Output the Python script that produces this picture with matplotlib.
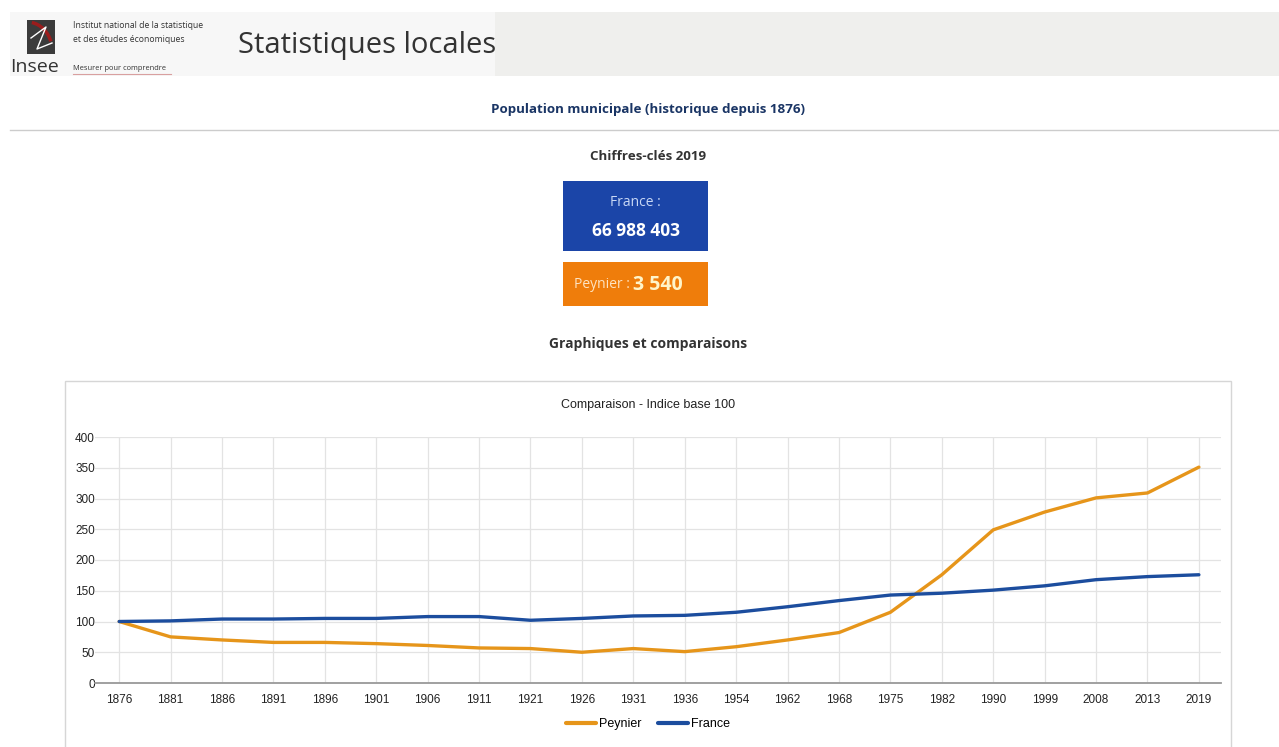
import numpy as np
import matplotlib
matplotlib.use("Agg")
import matplotlib.pyplot as plt
from matplotlib.patches import Rectangle, Arc

# ================== données ==================
annees = ["1876", "1881", "1886", "1891", "1896", "1901", "1906", "1911", "1921",
          "1926", "1931", "1936", "1954", "1962", "1968", "1975", "1982", "1990",
          "1999", "2008", "2013", "2019"]
peynier = [100, 75, 70, 66, 66, 64, 61, 57, 56, 50, 56, 51, 59, 70, 82, 115,
           176, 249, 278, 301, 309, 351]
france = [100, 101, 104, 104, 105, 105, 108, 108, 102, 105, 109, 110, 115, 124,
          134, 143, 146, 151, 158, 168, 173, 176]
y_ticks = [0, 50, 100, 150, 200, 250, 300, 350, 400]

pop_france = "66 988 403"
pop_peynier = "3 540"
# =============================================

W, H = 1279, 747
C_ORANGE = "#e6951a"
C_BLUE = "#1c4d9e"
HEAD_FONT = ["Open Sans", "DejaVu Sans"]
CHART_FONT = ["Liberation Sans", "DejaVu Sans"]

fig = plt.figure(figsize=(W / 100, H / 100), dpi=100)
fig.patch.set_facecolor("white")

# calque "page" en pixels (axe y inversé)
bg = fig.add_axes([0, 0, 1, 1])
bg.set_xlim(0, W)
bg.set_ylim(H, 0)
bg.axis("off")

# ===== bandeau =====
bg.add_patch(Rectangle((10, 12), 485, 64, facecolor="#f7f7f7", edgecolor="none"))
bg.add_patch(Rectangle((495, 12), W - 495, 64, facecolor="#efefed", edgecolor="none"))
logo = Rectangle((27, 20), 28, 34, facecolor="#3b3b3b", edgecolor="none")
bg.add_patch(logo)
arc = Arc((27, 50), 50, 56, theta1=280, theta2=340, color="#9b1c1c", lw=2.5)
bg.add_patch(arc)
arc.set_clip_path(logo)
bg.plot([31, 46, 37, 52], [38, 27, 49, 43], color="white", lw=1)
bg.text(35, 67, "Insee", fontsize=14, family=HEAD_FONT, color="#333333",
        ha="center", va="center")
bg.text(73, 25, "Institut national de la statistique", fontsize=6.2,
        family=HEAD_FONT, color="#333333", va="center")
bg.text(73, 40, "et des études économiques", fontsize=6.2,
        family=HEAD_FONT, color="#333333", va="center")
bg.text(73, 68, "Mesurer pour comprendre", fontsize=5.4,
        family=HEAD_FONT, color="#333333", va="center")
bg.plot([73, 171], [74, 74], color="#d9a0a0", lw=0.8)
bg.text(238, 45, "Statistiques locales", fontsize=21, family=HEAD_FONT,
        color="#333333", va="center")

bg.text(648, 110, "Population municipale (historique depuis 1876)", fontsize=9.6,
        family=HEAD_FONT, weight="bold", color="#1a3565", ha="center", va="center")
bg.plot([10, W], [130, 130], color="#cccccc", lw=1)

# ===== chiffres-clés =====
bg.text(648, 157, "Chiffres-clés 2019", fontsize=9.6, family=HEAD_FONT,
        weight="bold", color="#333333", ha="center", va="center")
bg.add_patch(Rectangle((563, 181), 145, 70, facecolor="#1b45a8", edgecolor="none"))
bg.text(635, 202, "France :", fontsize=10, family=HEAD_FONT, color="#c9d8f5",
        ha="center", va="center")
bg.text(636, 231, pop_france, fontsize=12.5, family=HEAD_FONT, weight="bold",
        color="white", ha="center", va="center")
bg.add_patch(Rectangle((563, 262), 145, 44, facecolor="#ef7d0b", edgecolor="none"))
bg.text(633, 285, "Peynier : ", fontsize=10, family=HEAD_FONT, color="#fde3c2",
        ha="right", va="center")
bg.text(633, 285, pop_peynier, fontsize=14, family=HEAD_FONT, weight="bold",
        color="#fff4c9", ha="left", va="center")

bg.text(648, 344, "Graphiques et comparaisons", fontsize=10, family=HEAD_FONT,
        weight="bold", color="#333333", ha="center", va="center")

# ===== cadre du graphique =====
bg.add_patch(Rectangle((65, 381), 1166, 370, facecolor="white",
                       edgecolor="#d6d6d6", lw=1))
bg.text(648, 405, "Comparaison - Indice base 100", fontsize=9,
        family=CHART_FONT, color="#222222", ha="center", va="center")

# ===== courbes =====
ax = fig.add_axes([95 / W, 1 - 683 / H, (1221 - 95) / W, (683 - 437) / H])
ax.set_facecolor("none")
x = np.arange(len(annees))

ax.plot(x, peynier, color=C_ORANGE, lw=2.4, solid_joinstyle="round",
        solid_capstyle="round", label="Peynier", zorder=3)
ax.plot(x, france, color=C_BLUE, lw=2.4, solid_joinstyle="round",
        solid_capstyle="round", label="France", zorder=3)

ax.set_xlim(-0.47, len(annees) - 1 + 0.43)
ax.set_ylim(0, 400)
ax.set_xticks(x)
ax.set_xticklabels(annees)
ax.set_yticks(y_ticks)

for s in ["top", "right", "left"]:
    ax.spines[s].set_visible(False)
ax.spines["bottom"].set_color("#999999")
ax.spines["bottom"].set_linewidth(1.3)

ax.grid(True, color="#e3e3e3", lw=0.9)
ax.set_axisbelow(True)
ax.tick_params(length=0, labelsize=8.5, colors="#222222")
ax.tick_params(axis="x", pad=8)
ax.tick_params(axis="y", pad=0)
for lab in ax.get_xticklabels() + ax.get_yticklabels():
    lab.set_family(CHART_FONT)

leg = ax.legend(loc="center", bbox_to_anchor=(0.491, -0.167), ncol=2,
                frameon=False, handlelength=2.4, columnspacing=1.3,
                handletextpad=0.25, prop={"family": CHART_FONT, "size": 9})
for line in leg.get_lines():
    line.set_linewidth(3)

fig.savefig("out.png", dpi=100)
